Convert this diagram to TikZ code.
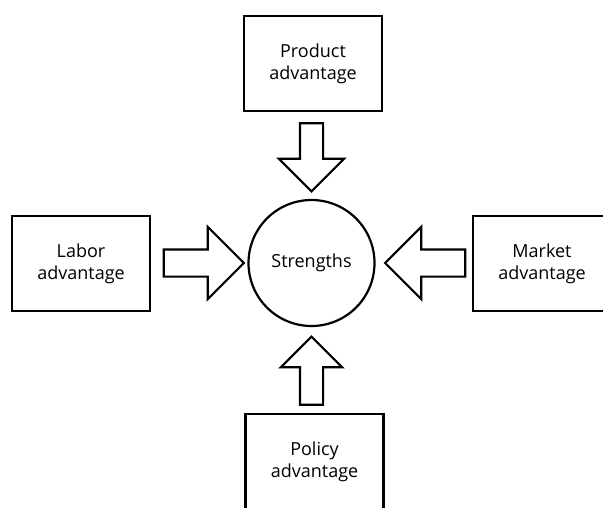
\documentclass[tikz,border=0pt]{standalone}
\usepackage{fontspec}
\setmainfont{Open Sans}
\usetikzlibrary{shapes.arrows}
\tikzstyle{factor} = [draw, line width=2.6pt, minimum width=138pt, minimum height=95pt, align=center,
font=\fontsize{18}{22}\selectfont]
\tikzstyle{core} = [draw, circle, line width=2.2pt, minimum size=126pt, font=\fontsize{18}{22}\selectfont]
\tikzstyle{push} = [draw, single arrow, anchor=tip, line width=2.2pt, inner xsep=0pt, inner ysep=10.5pt,
single arrow head extend=21pt, minimum width=0pt, minimum height=68pt]
\tikzstyle{widepush} = [push, inner ysep=12.5pt, single arrow head extend=22.5pt, minimum height=80pt]

\begin{document}
\begin{tikzpicture}[x=1pt, y=-1pt]
\useasboundingbox (0,0) rectangle (603,508);
\clip (0,0) rectangle (603,508);

\node (strengths) [core] at (311.5,263) {Strengths};

\node (product) [factor] at (313,63.5) {Product\\advantage};
\node (labor) [factor] at (81,263.5) {Labor\\advantage};
\node (market) [factor] at (542,263.5) {Market\\advantage};
\node (policy) [factor] at (314.5,461.5) {Policy\\advantage};

% hollow arrows, tips just short of the circle
\node (productpush) [yshift=6pt] at (strengths.north) [push, rotate=-90] {};
\node (laborpush) [xshift=-2pt] at (strengths.west) [widepush] {};
\node (marketpush) [xshift=8pt] at (strengths.east) [widepush, rotate=180] {};
\node (policypush) [yshift=-8pt] at (strengths.south) [push, rotate=90, single arrow head extend=19pt] {};
\end{tikzpicture}
\end{document}
